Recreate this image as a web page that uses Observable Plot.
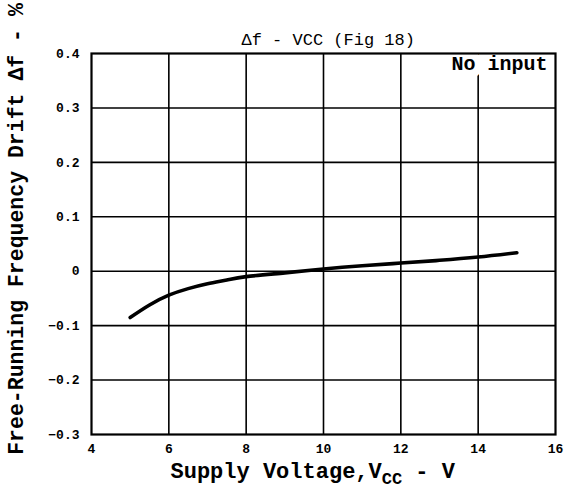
<!DOCTYPE html>
<html>
<head>
<meta charset="utf-8">
<script src="https://cdn.jsdelivr.net/npm/d3@7"></script>
<script src="https://cdn.jsdelivr.net/npm/@observablehq/plot@0.6"></script>
<style>
  html, body { margin: 0; padding: 0; background: #fff; }
  #chart svg { display: block; background: #fff; }
</style>
</head>
<body>
<div id="chart"></div>
<script>
// Supply voltage (V) and free-running frequency drift (%)
const vcc   = [5, 5.5, 6, 6.5, 7, 7.5, 8, 9, 10, 11, 12, 13, 14, 15];
const drift = [-0.085, -0.062, -0.044, -0.032, -0.023, -0.016, -0.010, -0.003, 0.004, 0.010, 0.015, 0.020, 0.026, 0.034];

const xTicks = [4, 6, 8, 10, 12, 14, 16];
const yTicks = [-0.3, -0.2, -0.1, 0, 0.1, 0.2, 0.3, 0.4];
const xGrid = [6, 8, 10, 12, 14];
const yGrid = [-0.2, -0.1, 0, 0.1, 0.2, 0.3];

const titleText = "Δf - VCC (Fig 18)";
const noteText = "No input";
const xLabelText = "Supply Voltage,VCC - V";
const yLabelText = "Free-Running Frequency Drift Δf - %";

const data = vcc.map((v, i) => ({v, d: drift[i]}));
const FONT = "'Liberation Mono', 'DejaVu Sans Mono', monospace";

const chart = Plot.plot({
  width: 568,
  height: 489,
  marginLeft: 91,
  marginRight: 13,
  marginTop: 53,
  marginBottom: 55,
  style: {fontFamily: FONT, fontWeight: "bold", color: "#000", background: "#fff"},
  x: {domain: [4, 16], label: null},
  y: {domain: [-0.3, 0.4], label: null},
  marks: [
    Plot.ruleX(xGrid, {stroke: "#000", strokeWidth: 1.6}),
    Plot.ruleY(yGrid, {stroke: "#000", strokeWidth: 1.6}),
    Plot.text([noteText], {frameAnchor: "top-right", textAnchor: "end", lineAnchor: "middle",
      dx: -8, dy: 10, fontSize: 20, fontWeight: "bold", fontFamily: FONT,
      fill: "#000", stroke: "#fff", strokeWidth: 16, strokeLinejoin: "round", paintOrder: "stroke"}),
    Plot.frame({stroke: "#000", strokeWidth: 2.2}),
    Plot.line(data, {x: "v", y: "d", curve: "natural", stroke: "#000", strokeWidth: 3.6, strokeLinecap: "round"}),
    Plot.axisX(xTicks, {tickSize: 0, tickPadding: 9, fontSize: 13, fontWeight: "bold", tickFormat: d => String(d)}),
    Plot.axisY(yTicks, {tickSize: 0, tickPadding: 12, fontSize: 13, fontWeight: "bold",
      tickFormat: d => d === 0 ? "0" : (d < 0 ? "\u2212" + Math.abs(d).toFixed(1) : d.toFixed(1))}),
    Plot.text([titleText], {frameAnchor: "top-left", textAnchor: "start", lineAnchor: "middle",
      dx: 150, dy: -14, fontSize: 17, fontWeight: "normal", fontFamily: FONT}),
    Plot.text([xLabelText], {frameAnchor: "bottom-left", textAnchor: "start", lineAnchor: "middle",
      dx: 79, dy: 36, fontSize: 22, fontWeight: "bold", fontFamily: FONT}),
    Plot.text([yLabelText], {frameAnchor: "left", textAnchor: "middle", lineAnchor: "middle", rotate: -90,
      dx: -75, dy: -15, fontSize: 21.5, fontWeight: "bold", fontFamily: FONT})
  ]
});

document.getElementById("chart").appendChild(chart);

// Subscript "CC" in the x-axis label
d3.select(chart).selectAll("text").each(function() {
  if (this.textContent === xLabelText) {
    const t = d3.select(this);
    t.text(null);
    t.append("tspan").text("Supply Voltage,V");
    t.append("tspan").attr("dy", 6).attr("font-size", 17).text("CC");
    t.append("tspan").attr("dy", -6).text(" - V");
  }
});
</script>
</body>
</html>
